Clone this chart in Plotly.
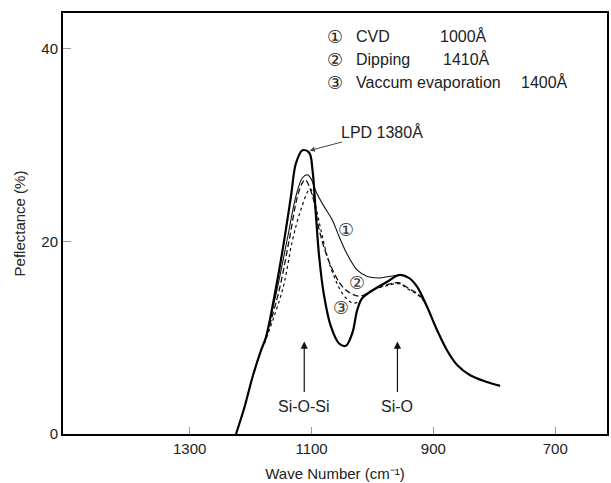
import plotly.graph_objects as go

# LPD 1380 Å (thick solid)
lpd_wave = [1224, 1210, 1196.5, 1182.8, 1174.6, 1161, 1147.5, 1133.7, 1125.6, 1114.8, 1103.8,
            1098.4, 1093, 1087.5, 1079.3, 1068.4, 1054.8, 1043.8, 1033, 1024.9, 1016.7, 997.6,
            975.8, 956.7, 940.3, 926.8, 910.4, 894.1, 877.7, 861.4, 839.5, 812.3, 790.4]
lpd_refl = [0, 2.8, 6.0, 8.7, 10.1, 14.3, 19.1, 24.7, 28.1, 29.45, 29.2,
            27.4, 22.9, 18.4, 14.3, 11.2, 9.4, 9.15, 10.5, 12.9, 14.1, 15.0,
            15.8, 16.5, 16.2, 15.3, 13.2, 10.8, 8.7, 7.2, 6.1, 5.4, 5.0]

# (1) CVD 1000 Å (thin solid) - part that departs from LPD
cvd_wave = [1174.6, 1155.6, 1139, 1125.6, 1114.8, 1106.6, 1100, 1093, 1079.3, 1065.7, 1054.8,
            1041, 1024.9, 1008.5, 989.4, 973, 956.7]
cvd_refl = [10.1, 15.3, 20.5, 24.7, 26.6, 26.9, 26.4, 25.2, 23.6, 22.2, 20.5,
            18.6, 17.0, 16.35, 16.2, 16.35, 16.5]

# (2) Dipping 1410 Å (dashed)
dip_wave = [1177.4, 1152.9, 1136.5, 1123, 1114.8, 1110.4, 1098.4, 1087.5, 1076.5, 1063, 1049.4,
            1035.6, 1022, 1008.5, 997.6, 975.8, 956.7, 940.3, 926.8, 915.8, 910.4]
dip_refl = [9.4, 15.0, 20.2, 24.7, 26.1, 26.4, 24.7, 21.2, 18.8, 16.7, 15.3,
            14.6, 14.3, 14.6, 15.0, 15.5, 15.7, 15.1, 14.6, 13.9, 13.2]

# (3) Vacuum evaporation 1400 Å (short dashes)
vac_wave = [1177.4, 1147.5, 1131, 1117.5, 1103.8, 1101, 1093, 1084.7, 1074, 1063, 1049.4,
            1033, 1022, 1011, 997.6, 975.8, 956.7, 940.3, 926.8, 915.8, 910.4]
vac_refl = [9.4, 15.0, 20.2, 23.3, 25.4, 25.4, 23.6, 21.2, 18.4, 16.35, 14.6,
            13.6, 13.75, 14.45, 15.0, 15.4, 15.6, 15.0, 14.5, 13.8, 13.2]

x_ticks = [1300, 1100, 900, 700]
y_ticks = [0, 20, 40]

FONT = "Liberation Sans"
TXT = "#222222"

fig = go.Figure()
fig.add_trace(go.Scatter(x=cvd_wave, y=cvd_refl, mode="lines", line_shape="spline",
                         line=dict(color="#111111", width=1.1), showlegend=False))
fig.add_trace(go.Scatter(x=dip_wave, y=dip_refl, mode="lines", line_shape="spline",
                         line=dict(color="#111111", width=1.3, dash="6px,3px"), showlegend=False))
fig.add_trace(go.Scatter(x=vac_wave, y=vac_refl, mode="lines", line_shape="spline",
                         line=dict(color="#111111", width=1.2, dash="3px,3px"), showlegend=False))
fig.add_trace(go.Scatter(x=lpd_wave, y=lpd_refl, mode="lines", line_shape="spline",
                         line=dict(color="#000000", width=2.2), showlegend=False))

ann = []
# legend block
leg_rows = [("\u2460", "CVD", "1000Å", 439), ("\u2461", "Dipping", "1410Å", 442),
            ("\u2462", "Vaccum evaporation", "1400Å", 521)]
for i, (c, name, val, vx) in enumerate(leg_rows):
    y = 0.945 - i * 0.0545
    ann.append(dict(x=(326 - 63) / 546, y=y, xref="paper", yref="paper", text=c, showarrow=False,
                    xanchor="left", yanchor="middle", font=dict(family="DejaVu Sans", size=18, color=TXT)))
    ann.append(dict(x=(355 - 63) / 546, y=y, xref="paper", yref="paper", text=name, showarrow=False,
                    xanchor="left", yanchor="middle", font=dict(family=FONT, size=16, color=TXT)))
    ann.append(dict(x=(vx - 63) / 546, y=y, xref="paper", yref="paper", text=val, showarrow=False,
                    xanchor="left", yanchor="middle", font=dict(family=FONT, size=16, color=TXT)))

# LPD label with arrow pointing at the peak
ann.append(dict(x=1104.5, y=29.4, ax=985, ay=31.4, xref="x", yref="y", axref="x", ayref="y",
                text="LPD 1380Å", showarrow=True, arrowhead=2, arrowsize=1, arrowwidth=1,
                arrowcolor="#444", standoff=1,
                font=dict(family=FONT, size=16, color=TXT)))

# curve labels
for c, xw, yr in [("\u2460", 1043.8, 21.2), ("\u2461", 1026, 15.7), ("\u2462", 1052, 13.1)]:
    ann.append(dict(x=xw, y=yr, xref="x", yref="y", text=c, showarrow=False,
                    font=dict(family="DejaVu Sans", size=18, color="#333")))

# band arrows with labels
for xw, lab in [(1112, "Si-O-Si"), (959, "Si-O")]:
    ann.append(dict(x=xw, y=9.6, ax=xw, ay=2.9, xref="x", yref="y", axref="x", ayref="y",
                    text=lab, showarrow=True, arrowhead=2, arrowsize=1.2, arrowwidth=1.2,
                    arrowcolor="#111", startstandoff=4,
                    font=dict(family=FONT, size=16, color=TXT)))

fig.update_layout(
    width=611, height=483,
    margin=dict(l=63, r=2, t=13, b=49),
    paper_bgcolor="white", plot_bgcolor="white",
    annotations=ann,
    xaxis=dict(range=[1508, 615], tickvals=x_ticks, ticktext=[str(v) for v in x_ticks],
               ticks="inside", ticklen=7, tickcolor="#999", tickwidth=1,
               showgrid=False, zeroline=False, showline=True, linecolor="black", linewidth=2,
               mirror=True,
               tickfont=dict(family=FONT, size=15, color=TXT),
               title=dict(text="Wave Number (cm\u207b\u00b9)", standoff=12,
                          font=dict(family=FONT, size=15, color=TXT))),
    yaxis=dict(range=[0, 43.7], tickvals=y_ticks, ticks="inside", ticklen=8, tickcolor="#999",
               tickwidth=1, showgrid=False, zeroline=False, showline=True, linecolor="black",
               linewidth=2, mirror=True,
               tickfont=dict(family=FONT, size=15, color=TXT),
               title=dict(text="Peflectance (%)", standoff=12,
                          font=dict(family=FONT, size=15, color=TXT))),
)

fig.write_html("out.html")
